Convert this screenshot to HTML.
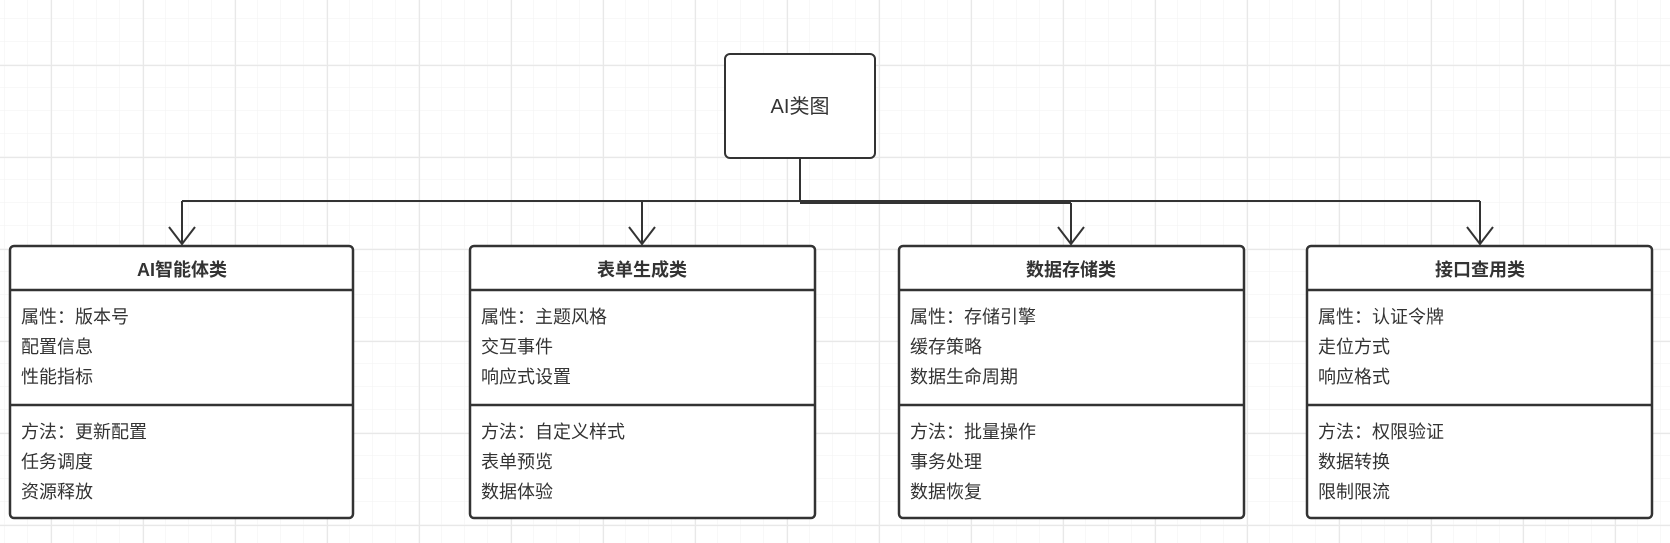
<!DOCTYPE html>
<html><head><meta charset="utf-8"><style>
body{margin:0;width:1670px;height:543px;overflow:hidden;background:#fff;}
svg{display:block}
text{font-family:"Liberation Sans","Noto Sans CJK SC",sans-serif;fill:#333;}
</style></head><body>
<svg width="1670" height="543" viewBox="0 0 1670 543" xmlns="http://www.w3.org/2000/svg">
<defs>
<pattern id="minor" width="23" height="23" patternUnits="userSpaceOnUse" x="5" y="19">
<path d="M23 0V23M0 23H23" stroke="#f2f2f2" stroke-width="1" fill="none"/></pattern>
<pattern id="major" width="92" height="92" patternUnits="userSpaceOnUse" x="51" y="65">
<path d="M0.5 0V92M0 0.5H92" stroke="#e8e8e8" stroke-width="1.2" fill="none"/></pattern>
</defs>
<rect width="1670" height="543" fill="url(#minor)"/>
<rect width="1670" height="543" fill="url(#major)"/>
<g stroke="#333" stroke-width="2" fill="none">
<path d="M800 158V202M182 201H1480M800 203H1071"/>
<path d="M182 201V244M642 201V244M1071 203V244M1480 201V244"/>
<path d="M169 227L182 244L195 227M629 227L642 244L655 227M1058 227L1071 244L1084 227M1467 227L1480 244L1493 227"/>
</g>
<rect x="725" y="54" width="150" height="104" rx="5" fill="#fff" stroke="#333" stroke-width="2"/>
<text x="800" y="113" font-size="20" text-anchor="middle">AI类图</text>
<g stroke="#333" stroke-width="2.5" fill="#fff">
<rect x="10" y="246" width="343" height="272" rx="4"/>
<rect x="470" y="246" width="345" height="272" rx="4"/>
<rect x="899" y="246" width="345" height="272" rx="4"/>
<rect x="1307" y="246" width="345" height="272" rx="4"/>
<path d="M10 290H353M10 405H353M470 290H815M470 405H815M899 290H1244M899 405H1244M1307 290H1652M1307 405H1652"/>
</g>
<g font-size="18" font-weight="bold" text-anchor="middle">
<text x="182" y="276">AI智能体类</text>
<text x="642" y="276">表单生成类</text>
<text x="1071" y="276">数据存储类</text>
<text x="1480" y="276">接口查用类</text>
</g>
<g font-size="18">
<text x="21" y="323">属性：版本号</text><text x="21" y="353">配置信息</text><text x="21" y="383">性能指标</text>
<text x="21" y="438">方法：更新配置</text><text x="21" y="468">任务调度</text><text x="21" y="498">资源释放</text>
<text x="481" y="323">属性：主题风格</text><text x="481" y="353">交互事件</text><text x="481" y="383">响应式设置</text>
<text x="481" y="438">方法：自定义样式</text><text x="481" y="468">表单预览</text><text x="481" y="498">数据体验</text>
<text x="910" y="323">属性：存储引擎</text><text x="910" y="353">缓存策略</text><text x="910" y="383">数据生命周期</text>
<text x="910" y="438">方法：批量操作</text><text x="910" y="468">事务处理</text><text x="910" y="498">数据恢复</text>
<text x="1318" y="323">属性：认证令牌</text><text x="1318" y="353">走位方式</text><text x="1318" y="383">响应格式</text>
<text x="1318" y="438">方法：权限验证</text><text x="1318" y="468">数据转换</text><text x="1318" y="498">限制限流</text>
</g>
</svg>
</body></html>
